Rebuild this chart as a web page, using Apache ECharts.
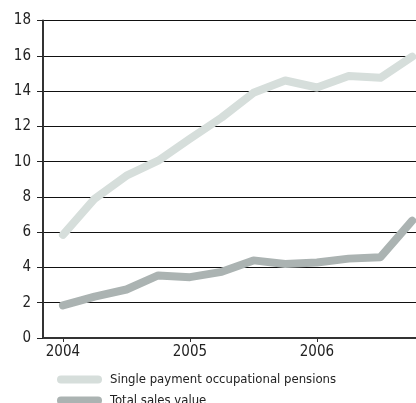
<!DOCTYPE html>
<html>
<head>
<meta charset="utf-8">
<script src="https://cdn.jsdelivr.net/npm/echarts@6/dist/echarts.min.js"></script>
<style>
  html, body { margin: 0; padding: 0; background: #fff; }
  #chart { width: 416px; height: 403px; }
</style>
</head>
<body>
<div id="chart"></div>
<script>
// quarterly points, 2004 Q1 .. 2006 Q4 (as fractional years)
var quarters = [2004, 2004.25, 2004.5, 2004.75, 2005, 2005.25, 2005.5, 2005.75, 2006, 2006.25, 2006.5, 2006.75];
var pensions = [5.85, 7.9, 9.2, 10.05, 11.3, 12.5, 13.9, 14.6, 14.2, 14.85, 14.75, 15.95];
var totalSales = [1.85, 2.35, 2.75, 3.55, 3.45, 3.75, 4.4, 4.2, 4.28, 4.5, 4.58, 6.65];
var yearTicks = [2004, 2005, 2006];
var seriesNames = ['Single payment occupational pensions', 'Total sales value'];

function pairs(xs, ys) {
    return xs.map(function (x, i) { return [x, ys[i]]; });
}

var pill = 'path://M4,0 L41,0 A4,4 0 0 1 41,8 L4,8 A4,4 0 0 1 4,0 Z';
var font = '"DejaVu Sans Condensed", "Liberation Sans", sans-serif';

function legendFor(name, top) {
    return {
        left: 52,
        top: top,
        itemWidth: 45,
        itemHeight: 9,
        icon: pill,
        textStyle: { fontFamily: font, fontSize: 13, color: '#222', padding: [0, 0, 0, 3] },
        data: [name]
    };
}

var myChart = echarts.init(document.getElementById('chart'));
myChart.setOption({
    animation: false,
    grid: { left: 43, right: 0, top: 20.5, bottom: 65 },
    legend: [legendFor(seriesNames[0], 368), legendFor(seriesNames[1], 389)],
    xAxis: {
        type: 'value',
        min: 2003.843,
        max: 2006.78,
        splitLine: { show: false },
        axisLine: { lineStyle: { color: '#333', width: 2 } },
        axisTick: { customValues: yearTicks, length: 4, lineStyle: { color: '#333' } },
        axisLabel: {
            customValues: yearTicks,
            formatter: function (v) { return String(v); },
            fontFamily: font, fontSize: 15, color: '#222', margin: 7
        }
    },
    yAxis: {
        type: 'value',
        min: 0,
        max: 18,
        interval: 2,
        axisLine: { show: true, lineStyle: { color: '#333', width: 2 } },
        axisTick: { show: true, length: 6, lineStyle: { color: '#222' } },
        splitLine: { lineStyle: { color: '#111', width: 1 } },
        axisLabel: { fontFamily: font, fontSize: 15, color: '#222', margin: 12 }
    },
    series: [{
        name: seriesNames[0],
        type: 'line',
        data: pairs(quarters, pensions),
        showSymbol: false,
        color: '#d6dedb',
        lineStyle: { width: 8, cap: 'round', join: 'round' }
    }, {
        name: seriesNames[1],
        type: 'line',
        data: pairs(quarters, totalSales),
        showSymbol: false,
        color: '#abb3b2',
        lineStyle: { width: 8, cap: 'round', join: 'round' }
    }]
});
</script>
</body>
</html>
